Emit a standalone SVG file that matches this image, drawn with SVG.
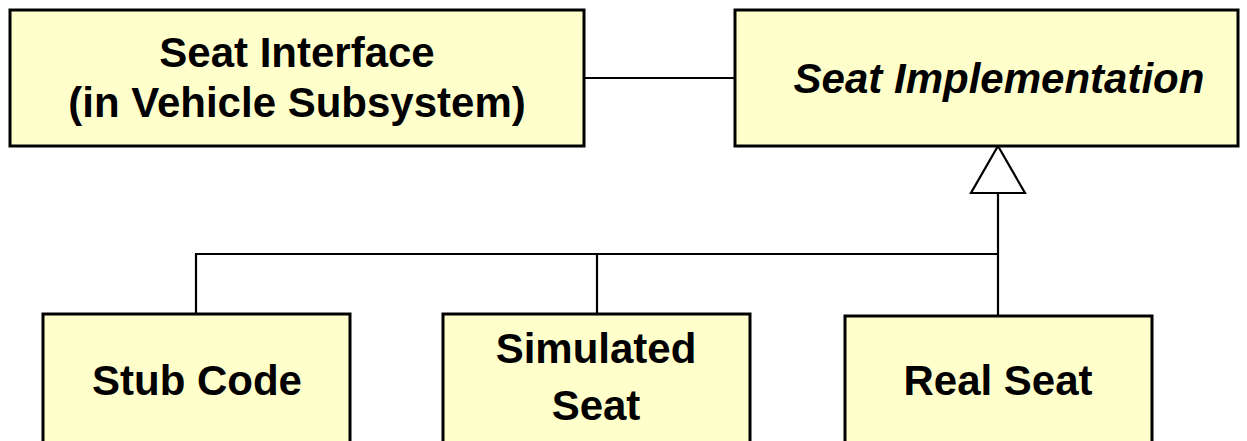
<svg xmlns="http://www.w3.org/2000/svg" width="1247" height="441" viewBox="0 0 1247 441">
<style>
.box{fill:#FFFFCC;stroke:#000;stroke-width:3}
.lbl{font-family:"Liberation Sans",Arial,sans-serif;font-weight:bold;font-size:42px;fill:#000;text-anchor:middle}
.it{font-style:italic}
.ln{fill:none;stroke:#000;stroke-width:2.2}
.tri{fill:#fff;stroke:#000;stroke-width:2.2;stroke-linejoin:miter}
</style>
<rect width="1247" height="441" fill="#fff"/>
<g id="connectors">
<line class="ln" x1="584" y1="78" x2="735" y2="78"/>
<polyline class="ln" points="196,314 196,254 998,254"/>
<line class="ln" x1="597" y1="254" x2="597" y2="314"/>
<line class="ln" x1="998" y1="193" x2="998" y2="316"/>
<polygon class="tri" points="998,146 1025,193 971,193"/>
</g>
<g id="seat-interface">
<rect class="box" x="10" y="10" width="574" height="136"/>
<text class="lbl" x="297" y="67">Seat Interface</text>
<text class="lbl" x="297" y="117">(in Vehicle Subsystem)</text>
</g>
<g id="seat-implementation">
<rect class="box" x="735" y="10" width="503" height="136"/>
<text class="lbl it" x="999" y="93">Seat Implementation</text>
</g>
<g id="stub-code">
<rect class="box" x="43" y="314" width="307" height="150"/>
<text class="lbl" x="197" y="395">Stub Code</text>
</g>
<g id="simulated-seat">
<rect class="box" x="443" y="314" width="307" height="150"/>
<text class="lbl" x="596" y="363">Simulated</text>
<text class="lbl" x="596" y="420">Seat</text>
</g>
<g id="real-seat">
<rect class="box" x="845" y="316" width="307" height="150"/>
<text class="lbl" x="998" y="395">Real Seat</text>
</g>
</svg>
